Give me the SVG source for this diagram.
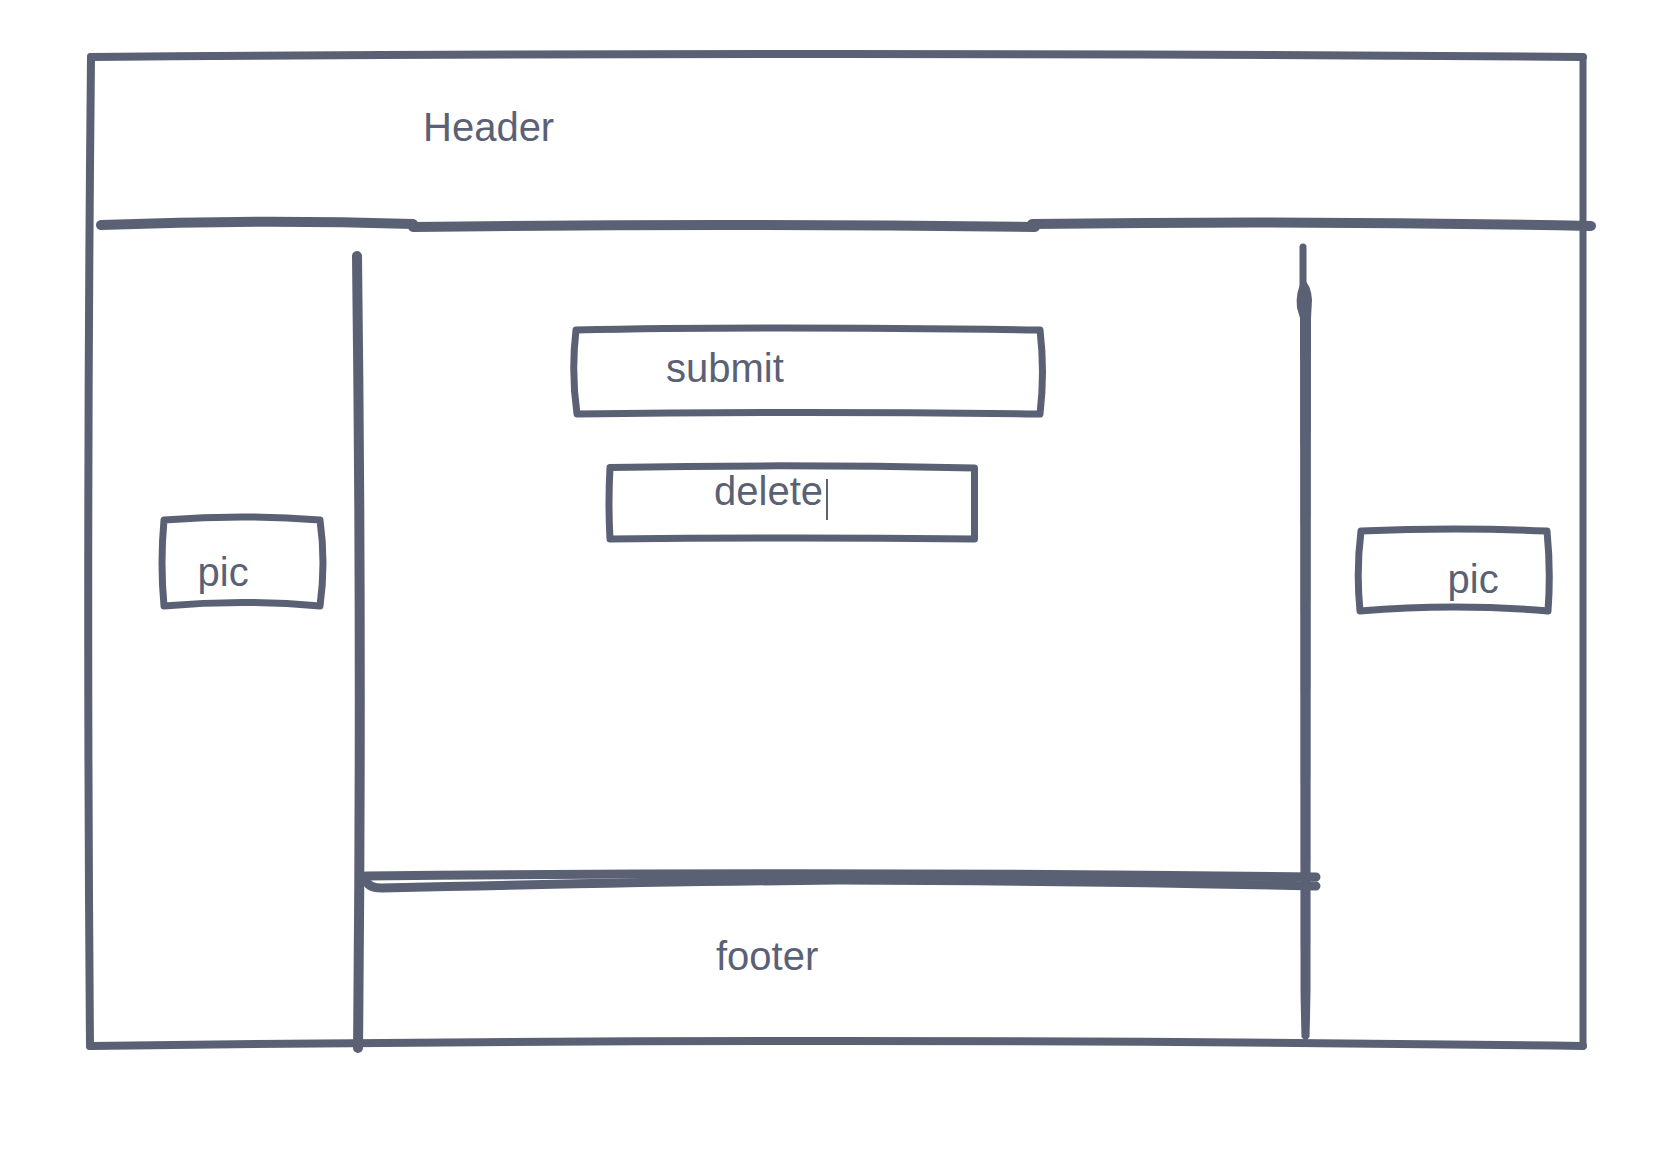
<svg xmlns="http://www.w3.org/2000/svg" width="1674" height="1166" viewBox="0 0 1674 1166">
  <style>
    .s { fill: none; stroke: #5b6175; stroke-linecap: round; stroke-linejoin: round; }
    .t { fill: #5b6175; font-family: "Liberation Sans", Arial, Helvetica, sans-serif; font-size: 40px; }
  </style>
  <rect x="0" y="0" width="1674" height="1166" fill="#ffffff"/>
  <g id="frame">
    <path class="s" stroke-width="8" d="M91,57 Q837,51 1583,57"/>
    <path class="s" stroke-width="7" d="M1583,57 L1583,1046"/>
    <path class="s" stroke-width="8" d="M1583,1046 Q837,1036 90,1046"/>
    <path class="s" stroke-width="8" d="M90,1046 Q86,550 91,57"/>
  </g>
  <g id="header-divider">
    <path class="s" stroke-width="10" d="M101,225 Q257,219 413,224"/>
    <path class="s" stroke-width="10" d="M413,227 Q720,223 1035,227"/>
    <path class="s" stroke-width="10" d="M1032,224 Q1310,220 1591,226"/>
  </g>
  <g id="header">
    <text class="t" x="423" y="140.5" font-size="38">Header</text>
  </g>
  <g id="left-column">
    <path class="s" stroke-width="10" d="M357,256 Q362,650 358,1048"/>
  </g>
  <g id="right-column">
    <path class="s" stroke-width="7" d="M1303,247 L1303,292"/>
    <path fill="#5b6175" d="M1303,279 Q1295,292 1297,308 L1300,318 L1311,318 L1312,300 Q1311,284 1303,279 Z"/>
    <path fill="#5b6175" d="M1300,312 L1311,312 L1310.5,990 Q1310,1020 1309.5,1037 Q1305.5,1043 1301.5,1037 Q1301,1020 1300.5,990 Z"/>
  </g>
  <g id="footer-divider">
    <path class="s" stroke-width="9" d="M366,876 Q840,871 1316,877"/>
    <path class="s" stroke-width="9" d="M366,879 Q367,888 382,888 Q640,882 837,880 Q1100,881 1316,886"/>
  </g>
  <g id="footer">
    <text class="t" x="716" y="970" font-size="41.5">footer</text>
  </g>
  <g id="submit">
    <path class="s" stroke-width="7" d="M576,330 Q760,326 1040,330 Q1045,372 1040,414 Q800,411 577,414 Q571,372 576,330 Z"/>
    <text class="t" x="666" y="382">submit</text>
  </g>
  <g id="delete">
    <path class="s" stroke-width="7" d="M610,467.5 Q790,464 974.5,468 L974.5,539 Q790,537 610,539 Q608,503 610,467.5 Z"/>
    <text class="t" x="714" y="505">delete</text>
    <line x1="827" y1="479" x2="827" y2="520" stroke="#5b6175" stroke-width="2"/>
  </g>
  <g id="pic-left">
    <path class="s" stroke-width="7" d="M164,520 Q242,514 320,520 Q326,563 320,606 Q242,599 164,606 Q160,563 164,520 Z"/>
    <text class="t" x="197.5" y="586">pic</text>
  </g>
  <g id="pic-right">
    <path class="s" stroke-width="7" d="M1361,531 Q1454,527 1547,531 Q1551,571 1548,611 Q1454,603 1360,611 Q1356,571 1361,531 Z"/>
    <text class="t" x="1447.5" y="593">pic</text>
  </g>
</svg>
